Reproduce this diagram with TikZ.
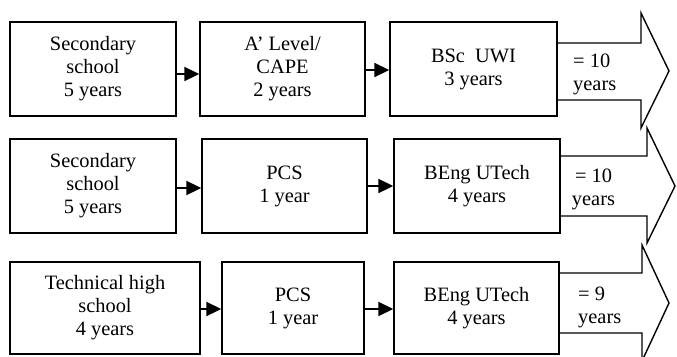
\documentclass[tikz,border=0pt]{standalone}
\usepackage{fontspec}
\setmainfont{Liberation Serif}
\usetikzlibrary{arrows.meta}

\begin{document}
\begin{tikzpicture}[x=1pt,y=-1pt,
    font=\fontsize{20.4}{23}\selectfont,
    stage/.style={draw,line width=1.4pt,align=center,inner sep=0pt},
    link/.style={line width=2pt,-{Triangle[length=15pt,width=14pt]}},
    bigarrow/.style={line width=1.4pt,line join=miter},
    total/.style={inner sep=0pt}]
    \useasboundingbox (0,0) rectangle (677,356);
    % first route
    \node [stage,minimum width=166pt,minimum height=94pt] (sec1) at (93,69) {Secondary\\school\\5 years};
    \node [stage,minimum width=165pt,minimum height=94pt] (cape) at (282.5,69) {A’ Level/\\CAPE\\2 years};
    \node [stage,minimum width=167pt,minimum height=94pt] (uwi) at (473.5,69) {BSc\ \ UWI\\3 years};
    \draw [link] ([yshift=-5pt]sec1.east) -- ([yshift=-5pt]cape.west);
    \draw [link] ([yshift=-1pt]cape.east) -- ([yshift=-1pt]uwi.west);
    \draw [bigarrow] (uwi.east |- 0,43) -- (641,43) -- (641,13) -- (669,71) -- (641,128) -- (641,100) -- (uwi.east |- 0,100);
    \node [total,align=left,anchor=west] (sum1) at (573,74) {= 10\\years};
    % second route
    \node [stage,minimum width=166pt,minimum height=94pt] (sec2) at (93,186) {Secondary\\school\\5 years};
    \node [stage,minimum width=165pt,minimum height=94pt] (pcs1) at (284.5,186) {PCS\\1 year};
    \node [stage,minimum width=166pt,minimum height=94pt] (beng1) at (477,186) {BEng UTech\\4 years};
    \draw [link] ([yshift=-2pt]sec2.east) -- ([yshift=-2pt]pcs1.west);
    \draw [link] (pcs1.east) -- (beng1.west);
    \draw [bigarrow] (beng1.east |- 0,156) -- (647,156) -- (647,128) -- (675,186) -- (647,243) -- (647,216) -- (beng1.east |- 0,216);
    \node [total,align=center] (sum2) at (593.5,189) {= 10\\years};
    % third route
    \node [stage,minimum width=190pt,minimum height=92pt] (tech) at (105,308) {Technical high\\school\\4 years};
    \node [stage,minimum width=142pt,minimum height=92pt] (pcs2) at (293,308) {PCS\\1 year};
    \node [stage,minimum width=165pt,minimum height=92pt] (beng2) at (476.5,308) {BEng UTech\\4 years};
    \draw [link] ([yshift=-1pt]tech.east) -- ([yshift=-1pt]pcs2.west);
    \draw [link] ([yshift=-1pt]pcs2.east) -- ([yshift=-1pt]beng2.west);
    \draw [bigarrow] (beng2.east |- 0,273) -- (642,273) -- (642,245) -- (669,303) -- (642,361) -- (642,333) -- (beng2.east |- 0,333);
    \node [total,align=left,anchor=west] (sum3) at (578,307) {= 9\\years};
\end{tikzpicture}
\end{document}
